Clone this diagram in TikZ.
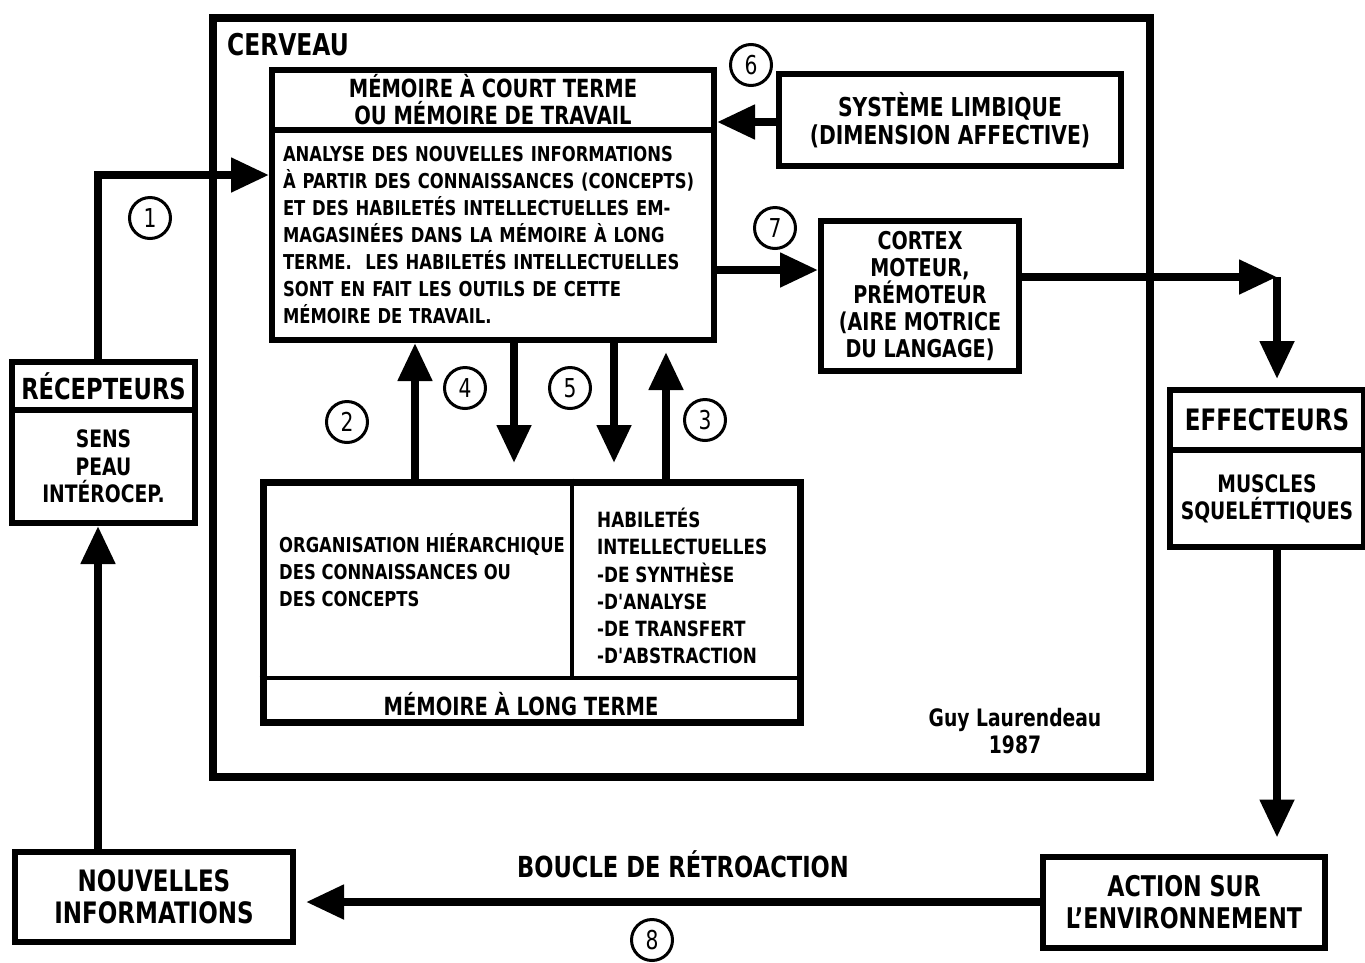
\documentclass[tikz,border=0pt]{standalone}
\usepackage{fontspec}
\setmainfont{DejaVu Sans}[FakeStretch=0.78]
\newfontfamily\bodyfont{DejaVu Sans}[FakeStretch=0.8]
\usetikzlibrary{arrows.meta}
\newcommand{\myfs}[2]{\fontsize{#1}{#2}\selectfont\bfseries}
\begin{document}
\begin{tikzpicture}[x=1pt,y=-1pt,
  box/.style={draw, line width=6pt, inner sep=0pt, align=center},
  arr/.style={line width=8pt, -{Triangle[length=38pt,width=33pt]}},
  num/.style={circle, draw, line width=3pt, minimum size=41pt, inner sep=0pt, font=\fontsize{26}{26}\selectfont},
  lbl/.style={inner sep=0pt, align=center}
]
\useasboundingbox[fill=white] (0,0) rectangle (1365,962);

% CERVEAU frame
\node[draw, line width=8pt, minimum width=937pt, minimum height=759pt] (cerveau) at (681.5,397.5) {};
\node[lbl, anchor=west, font=\myfs{30}{30}] (cerv) at (227,45) {CERVEAU};

% working memory
\node[box, minimum width=442pt, minimum height=60pt, font=\myfs{25}{27}] (mct) at (493,100)
  {MÉMOIRE À COURT TERME\\OU MÉMOIRE DE TRAVAIL};
\node[box, minimum width=442pt, minimum height=210pt, text width=420pt, inner xsep=11pt, align=left,
  font=\bodyfont\myfs{20.5}{27}] (mctb) at (493,235)
  {ANALYSE DES NOUVELLES INFORMATIONS\\
   À PARTIR DES CONNAISSANCES (CONCEPTS)\\
   ET DES HABILETÉS INTELLECTUELLES EM-\\
   MAGASINÉES DANS LA MÉMOIRE À LONG\\
   TERME.\ \ LES HABILETÉS INTELLECTUELLES\\
   SONT EN FAIT LES OUTILS DE CETTE\\
   MÉMOIRE DE TRAVAIL.};

% limbic system
\node[box, minimum width=342pt, minimum height=92pt, font=\myfs{26}{28}] (limb) at (950,120)
  {SYSTÈME LIMBIQUE\\(DIMENSION AFFECTIVE)};

% motor cortex
\node[box, minimum width=198pt, minimum height=150pt, font=\myfs{24.5}{27}] (cortex) at (920,296)
  {CORTEX\\MOTEUR,\\PRÉMOTEUR\\(AIRE MOTRICE\\DU LANGAGE)};

% receptors
\node[box, minimum width=183pt, minimum height=48pt, font=\myfs{29}{29}] (rech) at (103.5,386) {RÉCEPTEURS};
\node[box, minimum width=183pt, minimum height=113pt, font=\myfs{24}{27.5}] (recb) at (103.5,466.5)
  {SENS\\PEAU\\INTÉROCEP.};

% effectors
\node[box, minimum width=194pt, minimum height=60pt, font=\myfs{29.5}{29.5}] (effh) at (1267,420) {EFFECTEURS};
\node[box, minimum width=194pt, minimum height=97pt, font=\myfs{24}{27}] (effb) at (1267,498.5)
  {MUSCLES\\SQUELÉTTIQUES};

% action / new information
\node[box, minimum width=282pt, minimum height=91pt, font=\myfs{28.5}{32}] (action) at (1184,902)
  {ACTION SUR\\L'ENVIRONNEMENT};
\node[box, minimum width=278pt, minimum height=90pt, font=\myfs{29.5}{32}] (nouv) at (154,897)
  {NOUVELLES\\INFORMATIONS};

% long-term memory
\node[draw, line width=7pt, minimum width=537pt, minimum height=240pt, inner sep=0pt] (ltm) at (531.5,602) {};
\draw[line width=4pt] (ltm.west |- 0,678) -- (ltm.east |- 0,678);
\draw[line width=4pt] (ltm.north -| 572,0) -- (572,678);
\node[lbl, anchor=west, align=left, font=\bodyfont\myfs{20.5}{27}] (ltmL) at (279,570)
  {ORGANISATION HIÉRARCHIQUE\\DES CONNAISSANCES OU\\DES CONCEPTS};
\node[lbl, anchor=west, align=left, font=\bodyfont\myfs{21}{27.2}] (ltmR) at (597,586)
  {HABILETÉS\\INTELLECTUELLES\\-DE SYNTHÈSE\\-D'ANALYSE\\-DE TRANSFERT\\-D'ABSTRACTION};
\node[lbl, font=\myfs{25}{25}] (ltmB) at (521,704) {MÉMOIRE À LONG TERME};

% author
\node[lbl, font=\myfs{24}{27}] (author) at (1015,731) {Guy Laurendeau\\1987};

% feedback label
\node[lbl, font=\myfs{29}{29}] (boucle) at (683,864) {BOUCLE DE RÉTROACTION};

% numbers
\node[num] (n1) at (150,218) {1};
\node[num] (n2) at (347,422) {2};
\node[num] (n3) at (705,420) {3};
\node[num] (n4) at (465,388) {4};
\node[num] (n5) at (570,388) {5};
\node[num] (n6) at (751,65) {6};
\node[num] (n7) at (775,228) {7};
\node[num] (n8) at (652,940) {8};

% connectors
\coordinate (c1) at (98,175);
\draw[arr] (rech.north -| c1) |- (mctb.west |- c1);
\draw[arr] (nouv.north -| c1) -- (recb.south -| c1);
\draw[arr] (ltm.north -| 415,0) -- (mctb.south -| 415,0);
\draw[arr, shorten >=9pt] (ltm.north -| 666,0) -- (mctb.south -| 666,0);
\coordinate (t4) at (514,463);
\coordinate (t5) at (614,463);
\draw[arr] (mctb.south -| t4) -- (t4);
\draw[arr] (mctb.south -| t5) -- (t5);
\draw[arr] (limb.west |- 0,122) -- (mct.east |- 0,122);
\draw[arr] (mctb.east |- 0,270) -- (cortex.west |- 0,270);
\coordinate (corner) at (1277,277);
\draw[arr] (cortex.east |- corner) -- (corner);
\draw[arr, shorten >=8pt] (corner) -- (effh.north -| corner);
\draw[arr, shorten >=16pt] (effb.south -| corner) -- (action.north -| corner);
\draw[arr, shorten >=10pt] (action.west) -- (nouv.east |- action.west);
\end{tikzpicture}
\end{document}
